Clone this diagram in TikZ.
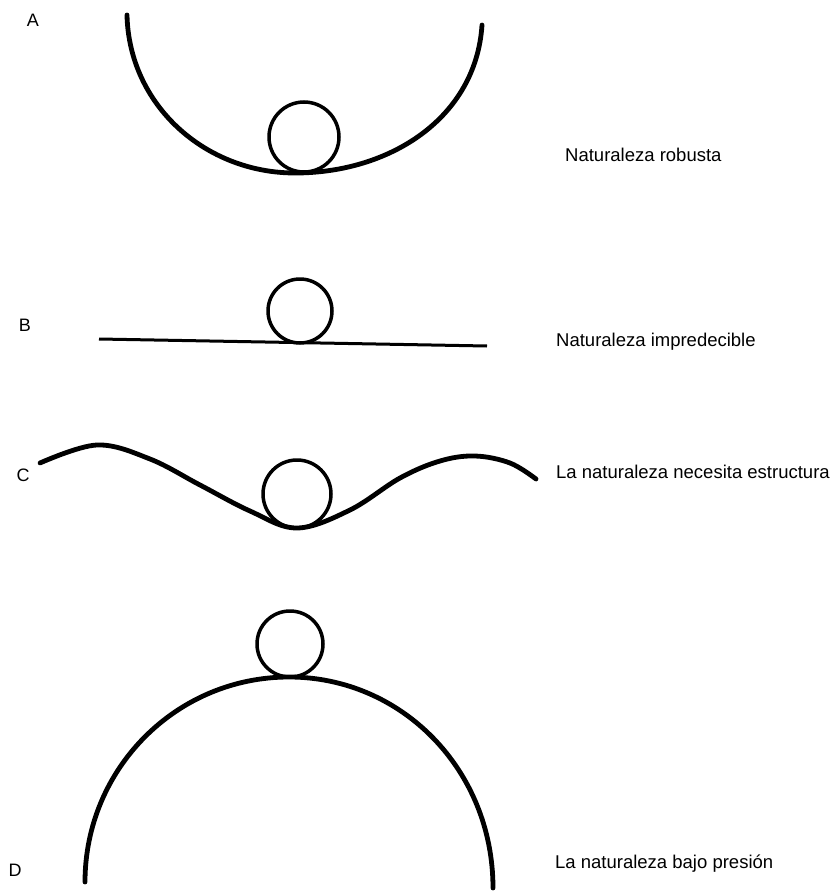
\documentclass[tikz,border=0pt]{standalone}
\usepackage{fontspec}
\setmainfont{Liberation Sans}
\begin{document}
\begin{tikzpicture}[x=1pt,y=-1pt,
  curve/.style={line width=4.8pt,line cap=round},
  ball/.style={line width=3.5pt},
  letter/.style={inner sep=0pt,font=\fontsize{18}{18}\selectfont},
  caption/.style={inner sep=0pt,anchor=base west,font=\fontsize{18.5}{19}\selectfont}]
\useasboundingbox (0,0) rectangle (836,891);
% A
\node[letter] (la) at (33,20) {A};
\draw[curve] (127,15) .. controls (129,105) and (205,173) .. (295,173)
                      .. controls (390,173) and (476,118) .. (482,25);
\draw[ball] (304,137) circle[radius=35];
\node[caption] (ta) at (565,161) {Naturaleza robusta};
% B
\node[letter] (lb) at (25,325) {B};
\draw[line width=3pt] (99,339) -- (487,346);
\draw[ball] (300,311) circle[radius=32];
\node[caption] (tb) at (556,346) {Naturaleza impredecible};
% C
\node[letter] (lc) at (23,475) {C};
\draw[curve] plot[smooth,tension=0.6] coordinates {(40,463) (97,445) (150,459) (200,485) (250,511) (297,528) (350,510) (400,478) (440,461) (475,456) (510,463) (536,479)};
\draw[ball] (297,494) circle[radius=34];
\node[caption] (tc) at (556,478) {La naturaleza necesita estructura};
% D
\node[letter] (ld) at (15,870) {D};
\draw[curve] (85,882) .. controls (85,769) and (176,677) .. (289,677)
                     .. controls (402,677) and (493,770) .. (493,888);
\draw[ball] (290,644) circle[radius=33];
\node[caption] (td) at (555,868) {La naturaleza bajo presión};
\end{tikzpicture}
\end{document}
